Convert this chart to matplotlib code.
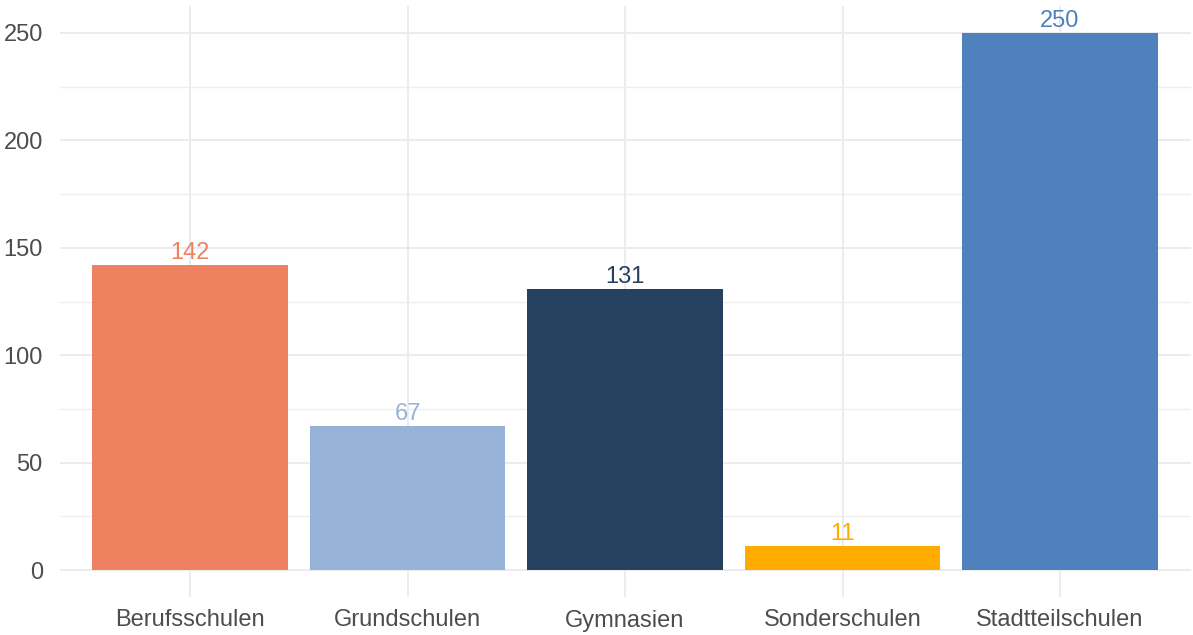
import matplotlib.pyplot as plt
from matplotlib.ticker import MultipleLocator

schools = ["Berufsschulen", "Grundschulen", "Gymnasien", "Sonderschulen", "Stadtteilschulen"]
counts = [142, 67, 131, 11, 250]
colors = ["#EE8160", "#96B3D7", "#26405F", "#FFAB00", "#4E81BD"]

plt.rcParams['font.family'] = ['Liberation Sans', 'DejaVu Sans']

fig = plt.figure(figsize=(11.93, 6.35), dpi=100)
ax = fig.add_axes([59.5 / 1193, 38 / 635, 1131 / 1193, 591 / 635])

x = range(len(schools))
ax.bar(x, counts, width=0.9, color=colors, zorder=2)
for xi, v, c in zip(x, counts, colors):
    ax.text(xi, v + 0.5, str(v), ha='center', va='bottom', color=c, fontsize=17, zorder=3)

top = max(counts)
ax.set_xlim(-0.6, len(schools) - 0.4)
ax.set_ylim(-0.05 * top, 1.05 * top)
ax.set_xticks(list(x))
ax.set_xticklabels(schools)
ax.yaxis.set_major_locator(MultipleLocator(50))
ax.yaxis.set_minor_locator(MultipleLocator(25))

ax.grid(True, which='major', color='#EBEBEB', linewidth=1.3, zorder=0)
ax.grid(True, which='minor', axis='y', color='#EEEEEE', linewidth=1.0, zorder=0)
for s in ax.spines.values():
    s.set_visible(False)
ax.tick_params(which='both', length=0, labelsize=17, labelcolor='#4D4D4D')
ax.tick_params(axis='x', pad=9)
ax.tick_params(axis='y', pad=12)

fig.savefig("out.png", dpi=100)
